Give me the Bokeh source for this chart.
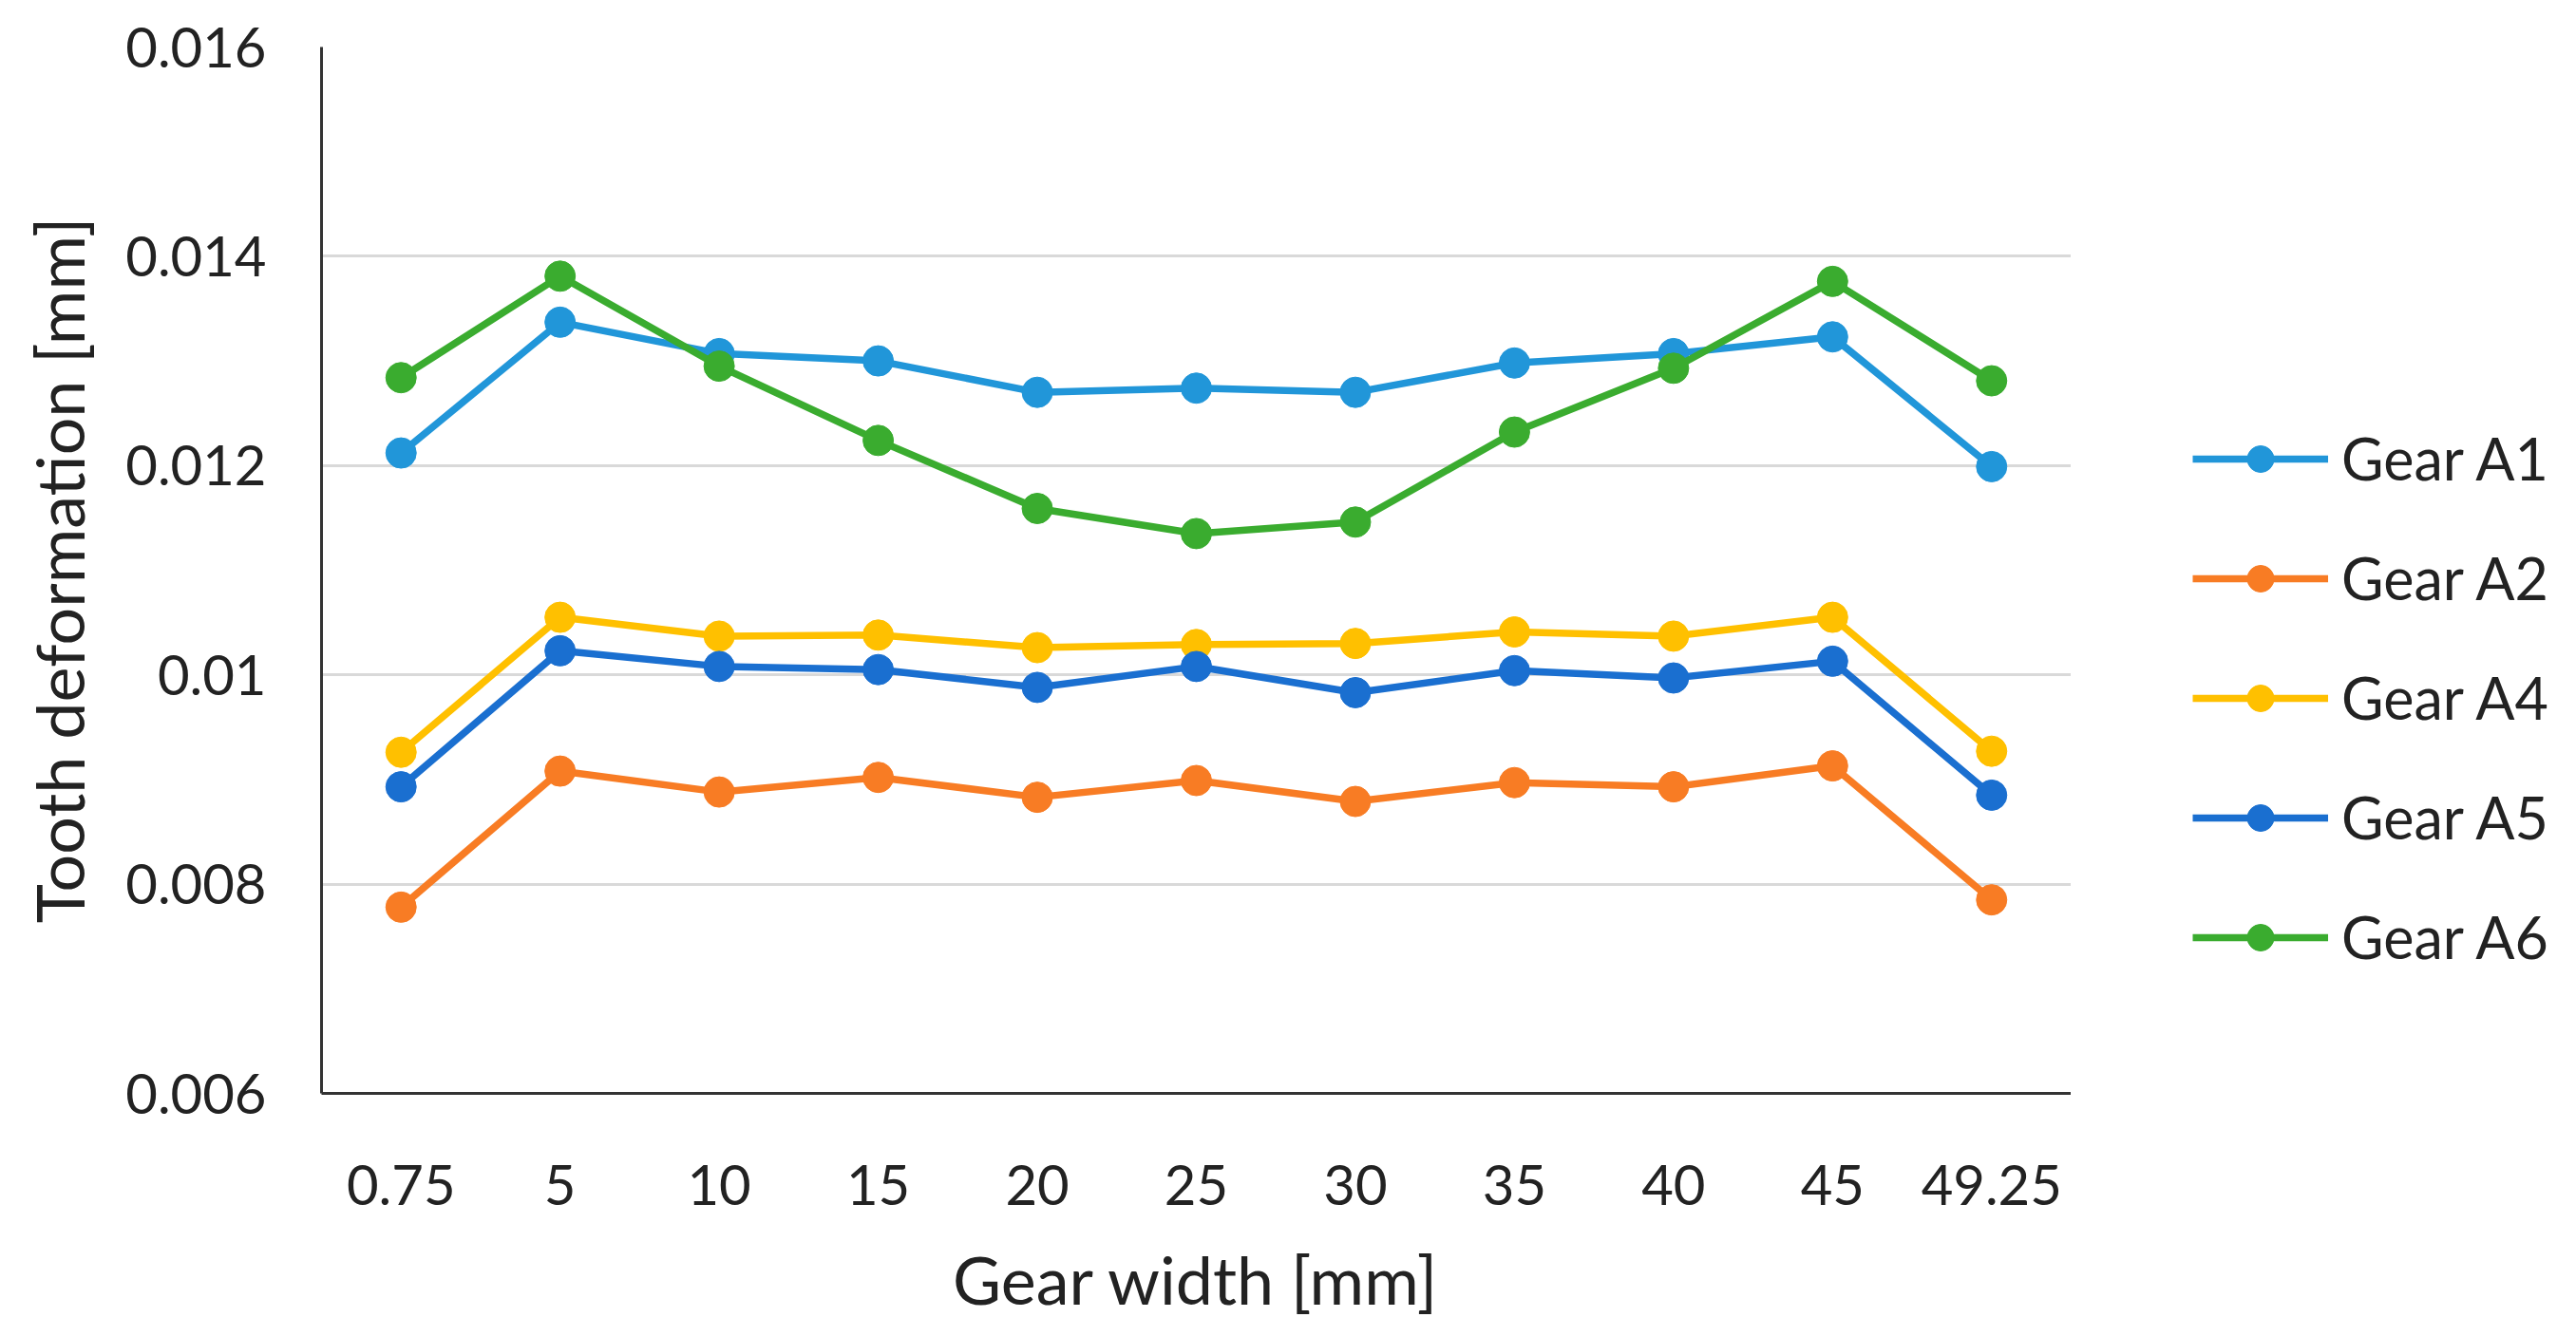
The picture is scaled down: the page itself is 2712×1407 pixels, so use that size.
from bokeh.plotting import figure
from bokeh.layouts import row
from bokeh.models import (FactorRange, Range1d, FixedTicker, CustomJSTickFormatter,
                          Legend, LegendItem)
from bokeh.embed import file_html
from bokeh.resources import INLINE

categories = ["0.75", "5", "10", "15", "20", "25", "30", "35", "40", "45", "49.25"]

gear_a1 = [0.01212, 0.01337, 0.01307, 0.01300, 0.01270, 0.01274, 0.01270, 0.01298, 0.01307, 0.01323, 0.01199]
gear_a2 = [0.00778, 0.00908, 0.00888, 0.00902, 0.00883, 0.00899, 0.00879, 0.00897, 0.00893, 0.00913, 0.00785]
gear_a4 = [0.00926, 0.01055, 0.01037, 0.01038, 0.01026, 0.01029, 0.01030, 0.01041, 0.01037, 0.01055, 0.00927]
gear_a5 = [0.00893, 0.01023, 0.01008, 0.01005, 0.00988, 0.01008, 0.00983, 0.01004, 0.00997, 0.01013, 0.00885]
gear_a6 = [0.01284, 0.01381, 0.01295, 0.01224, 0.01159, 0.01135, 0.01146, 0.01232, 0.01293, 0.01376, 0.01281]

series_names = ["Gear A1", "Gear A2", "Gear A4", "Gear A5", "Gear A6"]
series_values = [gear_a1, gear_a2, gear_a4, gear_a5, gear_a6]
series_colors = ["#2196d9", "#f87c24", "#ffc000", "#1a6fd0", "#3aac2f"]

y_ticks = [0.006, 0.008, 0.010, 0.012, 0.014, 0.016]

FONT = "Lato"
TEXT = "#222222"
LW = 7.5
MS = 32

p = figure(width=2180, height=1391, x_range=FactorRange(*categories),
           y_range=Range1d(0.006, 0.016), output_backend="svg",
           toolbar_location=None, min_border_left=338, min_border_right=0,
           min_border_top=49, min_border_bottom=237)
p.outline_line_color = None
p.background_fill_color = "white"
p.border_fill_color = "white"

p.xgrid.grid_line_color = None
p.ygrid.grid_line_color = "#d9d9d9"
p.ygrid.grid_line_width = 3

p.yaxis.ticker = FixedTicker(ticks=y_ticks)
p.yaxis.formatter = CustomJSTickFormatter(code="return tick.toFixed(3).replace(/0+$/, '');")

for ax in (p.xaxis[0], p.yaxis[0]):
    ax.axis_line_color = "#333333"
    ax.axis_line_width = 3
    ax.major_tick_line_color = None
    ax.minor_tick_line_color = None
    ax.major_tick_in = 0
    ax.major_tick_out = 0
    ax.major_label_text_font = FONT
    ax.major_label_text_font_size = "58px"
    ax.major_label_text_color = TEXT
    ax.axis_label_text_font = FONT
    ax.axis_label_text_font_size = "70px"
    ax.axis_label_text_font_style = "normal"
    ax.axis_label_text_color = TEXT

p.yaxis.axis_label = "Tooth deformation [mm]"
p.yaxis.major_label_standoff = 58
p.yaxis.axis_label_standoff = 25
p.xaxis.axis_label = "Gear width [mm]"
p.xaxis.major_label_standoff = 75
p.xaxis.axis_label_standoff = 33

for name, vals, col in zip(series_names, series_values, series_colors):
    p.line(categories, vals, line_color=col, line_width=LW)
    p.scatter(categories, vals, marker="circle", size=MS, fill_color=col, line_color=col)

# Legend panel: a companion figure whose ranges exclude the data, so only the legend shows
lg = figure(width=516, height=1391, x_range=FactorRange(*categories),
            y_range=Range1d(1.0, 2.0), output_backend="svg", toolbar_location=None,
            x_axis_location=None, y_axis_location=None,
            min_border_left=0, min_border_right=0, min_border_top=0, min_border_bottom=0)
lg.outline_line_color = None
lg.xgrid.visible = False
lg.ygrid.visible = False
lg.background_fill_color = "white"
lg.border_fill_color = "white"

items = []
for name, vals, col in zip(series_names, series_values, series_colors):
    ln = lg.line(categories, vals, line_color=col, line_width=LW)
    sc = lg.scatter(categories, vals, marker="circle", size=MS, fill_color=col, line_color=col)
    items.append(LegendItem(label=name, renderers=[ln, sc]))

legend = Legend(items=items, location=(128, 128), orientation="vertical",
                padding=0, margin=0, spacing=53, glyph_width=143, glyph_height=70,
                label_height=70, label_standoff=14, label_text_font=FONT,
                label_text_font_size="61px", label_text_color=TEXT,
                border_line_color=None, background_fill_alpha=0)
lg.add_layout(legend, "center")

layout = row(p, lg, spacing=0)
open("out.html", "w").write(file_html(layout, INLINE))
